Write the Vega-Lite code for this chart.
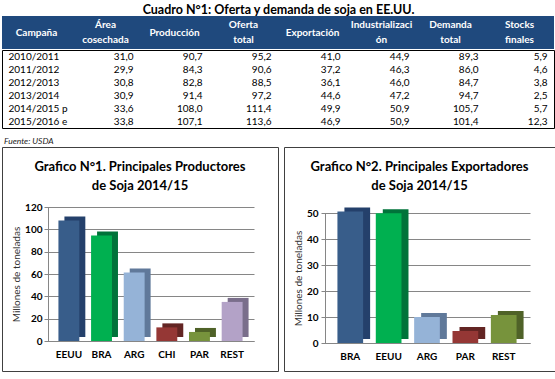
{
  "$schema": "https://vega.github.io/schema/vega-lite/v6.json",
  "padding": {"left": 1, "right": 2, "top": 3, "bottom": 2},
  "background": "white",
  "config": {
    "font": "Lato",
    "view": {"stroke": null},
    "locale": {"number": {"decimal": ",", "thousands": ".", "grouping": [3], "currency": ["", ""]}}
  },
  "title": {"text": "Cuadro N°1: Oferta y demanda de soja en EE.UU.", "fontSize": 12.5, "fontWeight": "bold", "anchor": "middle", "offset": 0, "color": "#000"},
  "datasets": {
    "encabezado": [
      {"col": "campana", "label": "Campaña"},
      {"col": "area", "label": "Área|cosechada"},
      {"col": "produccion", "label": "Producción"},
      {"col": "oferta", "label": "Oferta|total"},
      {"col": "exportacion", "label": "Exportación"},
      {"col": "industrializacion", "label": "Industrializaci|ón"},
      {"col": "demanda", "label": "Demanda|total"},
      {"col": "stocks", "label": "Stocks|finales"}
    ],
    "tabla": [
      {"campana": "2010/2011", "area": 31.0, "produccion": 90.7, "oferta": 95.2, "exportacion": 41.0, "industrializacion": 44.9, "demanda": 89.3, "stocks": 5.9},
      {"campana": "2011/2012", "area": 29.9, "produccion": 84.3, "oferta": 90.6, "exportacion": 37.2, "industrializacion": 46.3, "demanda": 86.0, "stocks": 4.6},
      {"campana": "2012/2013", "area": 30.8, "produccion": 82.8, "oferta": 88.5, "exportacion": 36.1, "industrializacion": 46.0, "demanda": 84.7, "stocks": 3.8},
      {"campana": "2013/2014", "area": 30.9, "produccion": 91.4, "oferta": 97.2, "exportacion": 44.6, "industrializacion": 47.2, "demanda": 94.7, "stocks": 2.5},
      {"campana": "2014/2015 p", "area": 33.6, "produccion": 108.0, "oferta": 111.4, "exportacion": 49.9, "industrializacion": 50.9, "demanda": 105.7, "stocks": 5.7},
      {"campana": "2015/2016 e", "area": 33.8, "produccion": 107.1, "oferta": 113.6, "exportacion": 46.9, "industrializacion": 50.9, "demanda": 101.4, "stocks": 12.3}
    ],
    "productores": [
      {"pais": "EEUU", "valor": 108.0},
      {"pais": "BRA", "valor": 94.5},
      {"pais": "ARG", "valor": 61.4},
      {"pais": "CHI", "valor": 12.2},
      {"pais": "PAR", "valor": 8.1},
      {"pais": "REST", "valor": 35.0}
    ],
    "exportadores": [
      {"pais": "BRA", "valor": 50.6},
      {"pais": "EEUU", "valor": 49.9},
      {"pais": "ARG", "valor": 10.0},
      {"pais": "PAR", "valor": 4.6},
      {"pais": "REST", "valor": 10.8}
    ]
  },
  "vconcat": [
    {
      "vconcat": [
        {
          "width": 552,
          "height": 33,
          "view": {"fill": "#1f497d", "stroke": null},
          "data": {"name": "encabezado"},
          "encoding": {
            "x": {"field": "col", "type": "nominal", "sort": null, "scale": {"domain": ["campana", "area", "produccion", "oferta", "exportacion", "industrializacion", "demanda", "stocks"], "paddingInner": 0, "paddingOuter": 0}, "axis": null},
            "text": {"field": "label", "type": "nominal"}
          },
          "layer": [
            {
              "transform": [{"filter": "indexof(datum.label, '|') < 0"}],
              "mark": {"type": "text", "color": "white", "fontWeight": "bold", "fontSize": 10, "baseline": "middle", "align": "center"}
            },
            {
              "transform": [{"filter": "indexof(datum.label, '|') >= 0"}],
              "mark": {"type": "text", "color": "white", "fontWeight": "bold", "fontSize": 10, "lineBreak": "|", "lineHeight": 15, "baseline": "middle", "align": "center", "dy": -7.5}
            }
          ]
        },
        {
          "width": 552,
          "height": 78,
          "view": {"stroke": "#000", "strokeWidth": 1},
          "title": {"text": "Fuente: USDA", "orient": "bottom", "anchor": "start", "fontSize": 8.5, "fontStyle": "italic", "fontWeight": "normal", "offset": 9, "dx": 2, "color": "#222"},
          "data": {"name": "tabla"},
          "encoding": {
            "y": {"field": "campana", "type": "nominal", "sort": null, "scale": {"paddingInner": 0, "paddingOuter": 0}, "axis": null}
          },
          "layer": [
            {
              "mark": {"type": "text", "align": "left", "dx": -28, "fontSize": 10, "baseline": "middle", "color": "#000"},
              "encoding": {
                "x": {"datum": "campana", "type": "nominal", "scale": {"domain": ["campana", "area", "produccion", "oferta", "exportacion", "industrializacion", "demanda", "stocks"], "paddingInner": 0, "paddingOuter": 0}, "axis": null},
                "text": {"field": "campana", "type": "nominal"}
              }
            },
            {
              "transform": [{"fold": ["area", "produccion", "oferta", "exportacion", "industrializacion", "demanda", "stocks"], "as": ["col", "valor"]}],
              "mark": {"type": "text", "align": "right", "dx": 28, "fontSize": 10, "baseline": "middle", "color": "#000"},
              "encoding": {
                "x": {"field": "col", "type": "nominal", "axis": null},
                "text": {"field": "valor", "type": "quantitative", "format": ".1f"}
              }
            }
          ]
        }
      ],
      "spacing": 0,
      "resolve": {"scale": {"x": "independent", "y": "independent"}}
    },
    {
      "hconcat": [
        {
          "width": 276,
          "height": 224,
          "view": {"stroke": "#404040", "strokeWidth": 1},
          "title": {"text": ["Grafico N°1. Principales Productores", "de Soja 2014/15"], "fontSize": 13, "fontWeight": "bold", "anchor": "middle", "offset": -46, "lineHeight": 19, "color": "#000"},
          "data": {"name": "productores"},
          "encoding": {
            "x": {"field": "pais", "type": "nominal", "sort": null, "scale": {"range": [45, 252], "paddingInner": 0.36, "paddingOuter": 0.35},
              "axis": {"offset": -30, "title": null, "labelAngle": 0, "labelFontWeight": "bold", "labelFontSize": 10, "labelColor": "#000", "labelPadding": 8, "ticks": false, "domainColor": "#868686"}},
            "y": {"field": "valor", "type": "quantitative", "scale": {"domain": [0, 120], "range": [194, 60], "nice": false},
              "axis": {"values": [0, 20, 40, 60, 80, 100, 120], "offset": -46, "grid": true, "gridColor": "#868686", "domainColor": "#868686", "tickColor": "#868686", "tickSize": 4, "labelPadding": 2, "labelFontWeight": "bold", "labelFontSize": 10, "labelColor": "#000", "title": "Millones de toneladas", "titleFontWeight": "normal", "titleFontSize": 10, "titleColor": "#333", "titlePadding": 3}}
          },
          "layer": [
            {
              "mark": {"type": "bar", "xOffset": 6, "x2Offset": 6, "yOffset": -4, "y2Offset": -4},
              "encoding": {"color": {"field": "pais", "type": "nominal", "scale": {"domain": ["EEUU", "BRA", "ARG", "CHI", "PAR", "REST"], "range": ["#24406b", "#00733a", "#60799a", "#632523", "#4f6228", "#7a6e8b"]}, "legend": null}}
            },
            {
              "mark": {"type": "bar"},
              "encoding": {"color": {"field": "pais", "type": "nominal", "scale": {"domain": ["EEUU", "BRA", "ARG", "CHI", "PAR", "REST"], "range": ["#385d8a", "#00b050", "#95b3d7", "#953735", "#77933c", "#b3a2c7"]}, "legend": null}}
            }
          ],
          "resolve": {"scale": {"color": "independent"}}
        },
        {
          "width": 271,
          "height": 224,
          "view": {"stroke": "#404040", "strokeWidth": 1},
          "title": {"text": ["Grafico N°2. Principales Exportadores", "de Soja 2014/15"], "fontSize": 13, "fontWeight": "bold", "anchor": "middle", "offset": -46, "lineHeight": 19, "color": "#000"},
          "data": {"name": "exportadores"},
          "encoding": {
            "x": {"field": "pais", "type": "nominal", "sort": null, "scale": {"range": [40, 246], "paddingInner": 0.33, "paddingOuter": 0.35},
              "axis": {"offset": -28, "title": null, "labelAngle": 0, "labelFontWeight": "bold", "labelFontSize": 10, "labelColor": "#000", "labelPadding": 8, "ticks": false, "domainColor": "#868686"}},
            "y": {"field": "valor", "type": "quantitative", "scale": {"domain": [0, 50], "range": [196, 66], "nice": false},
              "axis": {"values": [0, 10, 20, 30, 40, 50], "offset": -41, "grid": true, "gridColor": "#868686", "domainColor": "#868686", "tickColor": "#868686", "tickSize": 4, "labelPadding": 3, "labelFontWeight": "bold", "labelFontSize": 10, "labelColor": "#000", "title": "Millones de toneladas", "titleFontWeight": "normal", "titleFontSize": 10, "titleColor": "#333", "titlePadding": 3}}
          },
          "layer": [
            {
              "mark": {"type": "bar", "xOffset": 7, "x2Offset": 7, "yOffset": -4, "y2Offset": -4},
              "encoding": {"color": {"field": "pais", "type": "nominal", "scale": {"domain": ["BRA", "EEUU", "ARG", "PAR", "REST"], "range": ["#24406b", "#00733a", "#60799a", "#632523", "#4f6228"]}, "legend": null}}
            },
            {
              "mark": {"type": "bar"},
              "encoding": {"color": {"field": "pais", "type": "nominal", "scale": {"domain": ["BRA", "EEUU", "ARG", "PAR", "REST"], "range": ["#385d8a", "#00b050", "#95b3d7", "#953735", "#77933c"]}, "legend": null}}
            }
          ],
          "resolve": {"scale": {"color": "independent"}}
        }
      ],
      "spacing": 4,
      "resolve": {"scale": {"x": "independent", "y": "independent"}}
    }
  ],
  "spacing": 0,
  "resolve": {"scale": {"x": "independent", "y": "independent"}}
}
